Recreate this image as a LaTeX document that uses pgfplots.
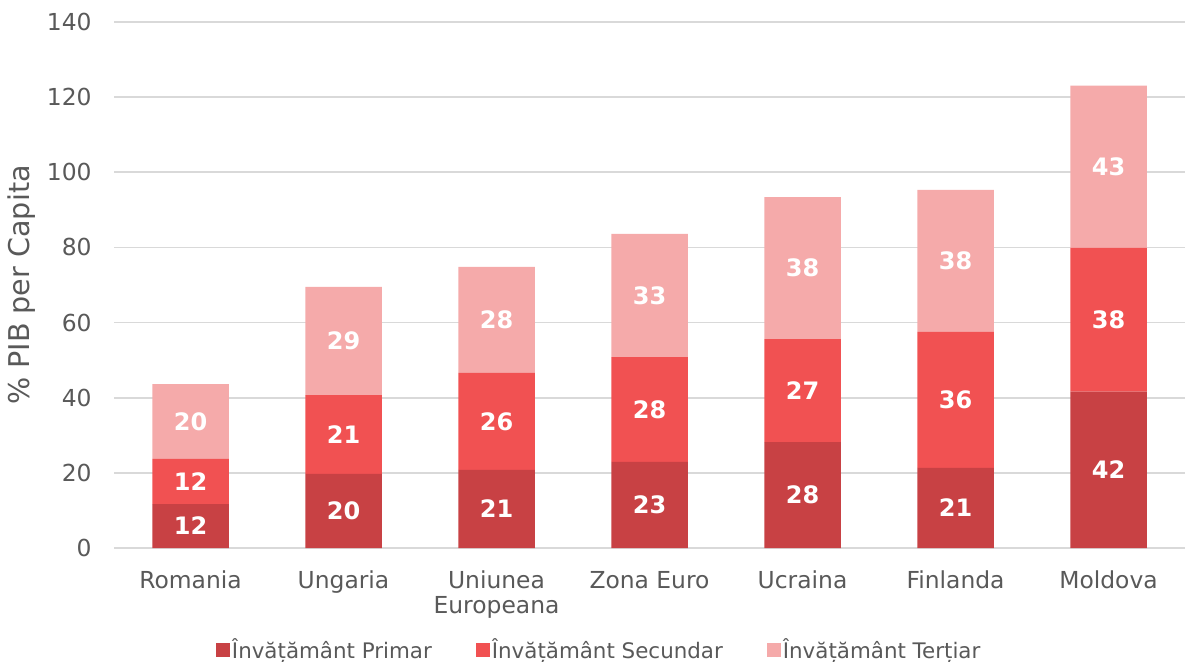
\documentclass[border=0pt]{standalone}
\usepackage{pgfplots}
\pgfplotsset{compat=1.18}
\usepackage{pgfplotstable}
\usepackage{fontspec}
\setmainfont{DejaVu Sans}

\definecolor{cprim}{HTML}{C84144}
\definecolor{csec}{HTML}{F15152}
\definecolor{cter}{HTML}{F5AAAA}
\definecolor{cgrid}{HTML}{D9D9D9}
\definecolor{ctext}{HTML}{595959}

% x  primar  secundar  tertiar
\pgfplotstableread{
x p s t
0 11.7 12.0 19.9
1 19.7 21.0 28.8
2 20.8 25.8 28.2
3 22.9 27.9 32.8
4 28.2 27.4 37.8
5 21.3 36.2 37.8
6 41.6 38.3 43.2
}\edu

\setlength{\tabcolsep}{0pt}

\begin{document}
\begin{tikzpicture}
\begin{axis}[
    ybar stacked,
    scale only axis,
    width=535.5pt, height=263pt,
    clip=false,
    bar width=0.5,
    xmin=-0.5, xmax=6.5,
    ymin=0, ymax=140,
    ytick={0,20,...,140},
    xtick={0,...,6},
    xticklabels={Romania, Ungaria, {\begin{tabular}[t]{c}Uniunea\\Europeana\end{tabular}}, Zona Euro, Ucraina, Finlanda, Moldova},
    ymajorgrids,
    grid style={cgrid, line width=0.8pt},
    axis line style={draw=none},
    major tick length=0pt,
    tick style={draw=none},
    /pgf/number format/assume math mode=true,
    ticklabel style={font=\fontsize{11.7}{12.5}\selectfont, text=ctext},
    y tick label style={anchor=east, inner sep=0pt, xshift=-11pt},
    x tick label style={anchor=base, inner sep=0pt, yshift=-20pt},
    ylabel={\% PIB per Capita},
    every axis y label/.style={at={(axis description cs:-0.0859,0.5)}, rotate=90, anchor=center,
        font=\fontsize{14.3}{16}\selectfont, text=ctext},
    point meta=explicit,
    nodes near coords={\pgfmathprintnumber[fixed,precision=0]{\pgfplotspointmeta}},
    every node near coord/.append style={font=\fontsize{12}{12}\bfseries, text=white, anchor=center},
    legend style={
        at={(axis description cs:0.453,-0.194)}, anchor=center,
        draw=none, fill=none, legend columns=-1,
        font=\fontsize{10.7}{12}\selectfont, text=ctext,
        nodes={inner sep=1pt},
        /tikz/every odd column/.append style={column sep=0pt},
        /tikz/every even column/.append style={column sep=21pt},
        inner sep=0pt,
    },
    legend image code/.code={\fill[#1] (0pt,-3.5pt) rectangle (7pt,3.5pt);},
]
\addplot[fill=cprim, draw=none] table[x=x, y=p, meta=p] {\edu};
\addplot[fill=csec, draw=none] table[x=x, y=s, meta=s] {\edu};
\addplot[fill=cter, draw=none] table[x=x, y=t, meta=t] {\edu};
\legend{Învățământ Primar, Învățământ Secundar, Învățământ Terțiar}
\coordinate (o) at (rel axis cs:0,0);
\end{axis}
\pgfresetboundingbox
\path ([shift={(-57pt,-56.5pt)}]o) rectangle ++(593pt,330.5pt);
\end{tikzpicture}
\end{document}
